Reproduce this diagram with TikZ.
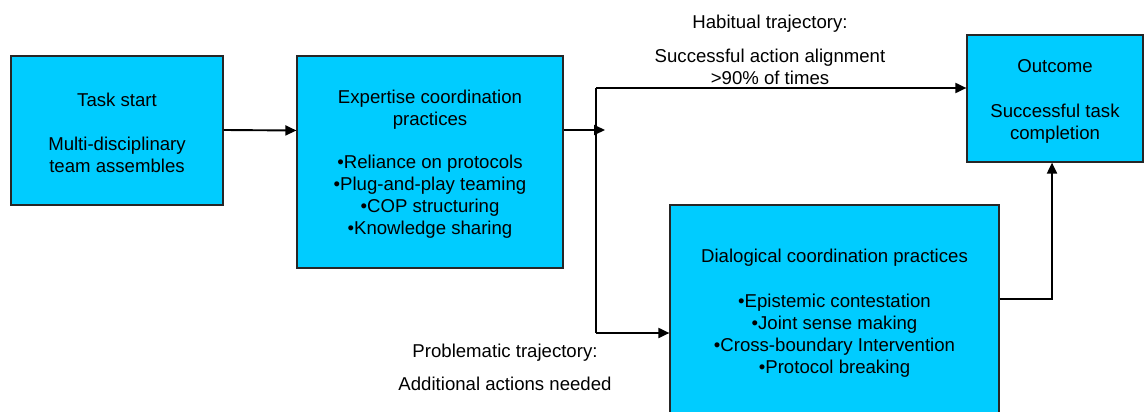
\documentclass[tikz,border=0pt]{standalone}
\usepackage{fontspec}
\setmainfont{Liberation Sans}
\usetikzlibrary{arrows.meta}
\definecolor{boxfill}{HTML}{00CCFF}
% raises the first line so the text block sits a little lower in its box
\newcommand\boxstrut{\rule{0pt}{18pt}}
\begin{document}
\begin{tikzpicture}[x=1pt,y=-1pt,
  txt/.style={align=center, font=\fontsize{18.6}{22}\selectfont},
  box/.style={txt, draw=black!85, line width=1.2pt, fill=boxfill, inner sep=0pt},
  note/.style={txt, inner sep=0pt},
  link/.style={line width=1.9pt},
  arr/.style={link, -{Triangle[length=11pt,width=10pt]}}]
\useasboundingbox (0,0) rectangle (1148,412);

% process boxes
\node[box, minimum width=212pt, minimum height=149pt] (start) at (117,130.5)
  {\boxstrut Task start\\[22pt]Multi-disciplinary\\team assembles};
\node[box, minimum width=266pt, minimum height=212pt] (expert) at (430,162)
  {\boxstrut Expertise coordination\\practices\\[21pt]•Reliance on protocols\\•Plug-and-play teaming\\•COP structuring\\•Knowledge sharing};
\node[box, minimum width=176pt, minimum height=127pt] (outcome) at (1055,98.5)
  {\boxstrut Outcome\\[23pt]Successful task\\completion};
\node[box, minimum width=329pt, minimum height=216pt] (dialog) at (834.5,313)
  {Dialogical coordination practices\\[23pt]•Epistemic contestation\\•Joint sense making\\•Cross-boundary Intervention\\•Protocol breaking};

% trajectory labels
\node[note, anchor=north] (habit) at (770,14.5)
  {Habitual trajectory:\\[12pt]Successful action alignment\\>90\% of times};
\node[note, anchor=north] (problem) at (505,343.5)
  {Problematic trajectory:\\[11pt]Additional actions needed};

% branching point
\coordinate (tip) at (605,130);
\coordinate (trunktop) at (596,88);
\coordinate (trunkbot) at (596,333);
\coordinate (riser) at (1052,299);

% connectors
\draw[arr] (start.east |- tip) -- (start.east -| expert.west);
\draw[arr] (expert.east |- tip) -- (tip);
\draw[link] (trunktop) -- (trunkbot);
\draw[arr] (trunktop) -- (trunktop -| outcome.west);
\draw[arr] (trunkbot) -- (trunkbot -| dialog.west);
\draw[arr] (dialog.east |- riser) -- (riser) -- (riser |- outcome.south);
\end{tikzpicture}
\end{document}
